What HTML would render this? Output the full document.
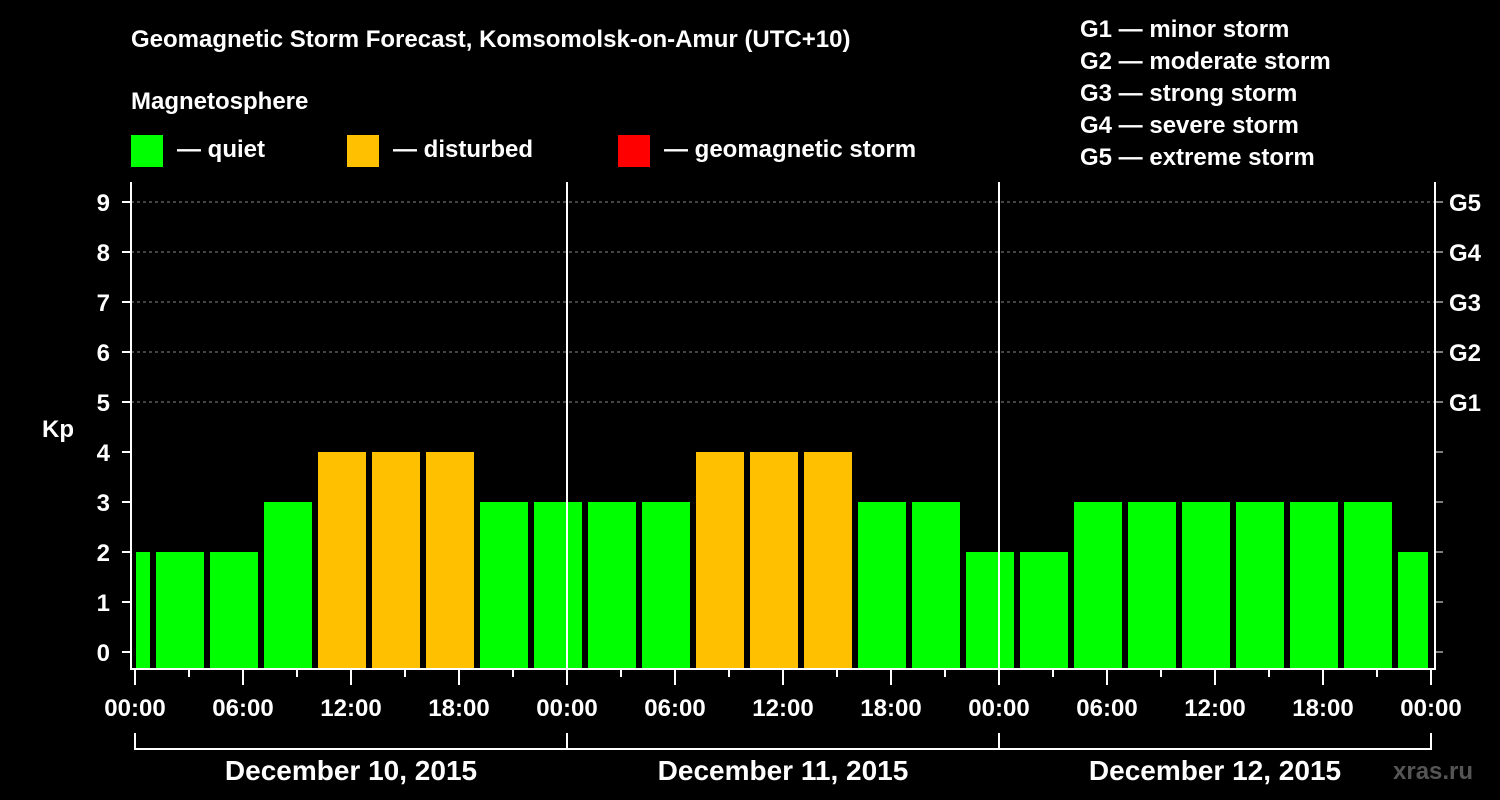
<!DOCTYPE html>
<html><head><meta charset="utf-8"><style>
html,body{margin:0;padding:0;background:#000;width:1500px;height:800px;overflow:hidden}
svg text{font-family:"Liberation Sans",Arial,sans-serif;font-weight:bold;fill:#fff}
</style></head><body>
<svg id="chart" width="1500" height="800" xmlns="http://www.w3.org/2000/svg">
<text x="131" y="47" font-size="24">Geomagnetic Storm Forecast, Komsomolsk-on-Amur (UTC+10)</text>
<text x="131" y="109" font-size="24">Magnetosphere</text>
<g><rect x="131" y="135" width="32" height="32" fill="#00ff00"/><text x="177" y="157" font-size="24">— quiet</text></g>
<g><rect x="347" y="135" width="32" height="32" fill="#ffc000"/><text x="393" y="157" font-size="24">— disturbed</text></g>
<g><rect x="618" y="135" width="32" height="32" fill="#ff0000"/><text x="664" y="157" font-size="24">— geomagnetic storm</text></g>
<g font-size="24">
<text x="1080" y="37">G1 — minor storm</text>
<text x="1080" y="69">G2 — moderate storm</text>
<text x="1080" y="101">G3 — strong storm</text>
<text x="1080" y="133">G4 — severe storm</text>
<text x="1080" y="165">G5 — extreme storm</text>
</g>
<text x="42" y="437" font-size="24">Kp</text>
<g id="grid"></g><g id="bars"></g><g id="axes"></g>
<text x="1393" y="779" font-size="24" style="fill:#555">xras.ru</text>
</svg>
<script>
const kpValues=[2,2,2,3,4,4,4,3,3,3,3,4,4,4,3,3,2,2,3,3,3,3,3,3,2];
const slotStartHours=[-2,1,4,7,10,13,16,19,22,25,28,31,34,37,40,43,46,49,52,55,58,61,64,67,70];
const yTicks=[0,1,2,3,4,5,6,7,8,9];
const gLabels=["G1","G2","G3","G4","G5"];
const gLevels=[5,6,7,8,9];
const xTickLabels=["00:00","06:00","12:00","18:00","00:00","06:00","12:00","18:00","00:00","06:00","12:00","18:00","00:00"];
const dayLabels=["December 10, 2015","December 11, 2015","December 12, 2015"];
const NS="http://www.w3.org/2000/svg";
const X0=135,PX_H=18,Y0=652,PX_K=50,PL=131,PR=1435,PT=182,PB=669;
const x=h=>X0+h*PX_H, y=v=>Y0-v*PX_K;
function mk(p,t,a){const e=document.createElementNS(NS,t);for(const k in a)e.setAttribute(k,a[k]);p.appendChild(e);return e;}
const grid=document.getElementById('grid'),bars=document.getElementById('bars'),axes=document.getElementById('axes');
gLevels.forEach((g,i)=>{
 const l=mk(grid,'line',{x1:PL,x2:PR,y1:y(g),y2:y(g),stroke:'#888','stroke-dasharray':'3,3','stroke-width':1});
 
 
 const t=mk(axes,'text',{x:1449,y:y(g)+9,'font-size':24});t.textContent=gLabels[i];
 
 
});
kpValues.forEach((v,i)=>{
 const s=Math.max(x(slotStartHours[i])+3,X0+1), e=Math.min(x(slotStartHours[i]+3)-3,x(72)-3);
 const c=v>=5?'#ff0000':(v>=4?'#ffc000':'#00ff00');
 const r=mk(bars,'rect',{x:s,y:y(v),width:e-s,height:PB-y(v),fill:c});
 
 
});
[24,48].forEach(h=>{const l=mk(axes,'line',{x1:x(h),x2:x(h),y1:PT,y2:PB,stroke:'#fff','stroke-width':2});
 
 });
const frame=mk(axes,'path',{d:`M${PL} ${PT}V${PB}H${PR}V${PT}`,fill:'none',stroke:'#fff','stroke-width':2});


yTicks.forEach(v=>{
 mk(axes,'line',{x1:PL-9,x2:PL,y1:y(v),y2:y(v),stroke:'#fff','stroke-width':2});
 mk(axes,'line',{x1:PR,x2:PR+8,y1:y(v),y2:y(v),stroke:'#fff','stroke-width':1});
 const t=mk(axes,'text',{x:110,y:y(v)+9,'font-size':24,'text-anchor':'end'});t.textContent=v;
 
 
});
for(let h=0;h<=72;h+=3){mk(axes,'line',{x1:x(h),x2:x(h),y1:PB,y2:PB+(h%6==0?16:8),stroke:'#fff','stroke-width':2});}
xTickLabels.forEach((lab,i)=>{
 const t=mk(axes,'text',{x:x(i*6),y:716,'font-size':24,'text-anchor':'middle'});t.textContent=lab;
 
 
});
dayLabels.forEach((d,i)=>{
 mk(axes,'path',{d:`M${x(i*24)} 733V749H${x(i*24+24)}V733`,fill:'none',stroke:'#fff','stroke-width':2});
 const t=mk(axes,'text',{x:x(i*24+12),y:780,'font-size':28,'text-anchor':'middle'});t.textContent=d;
 
 
});
</script>
</body></html>
